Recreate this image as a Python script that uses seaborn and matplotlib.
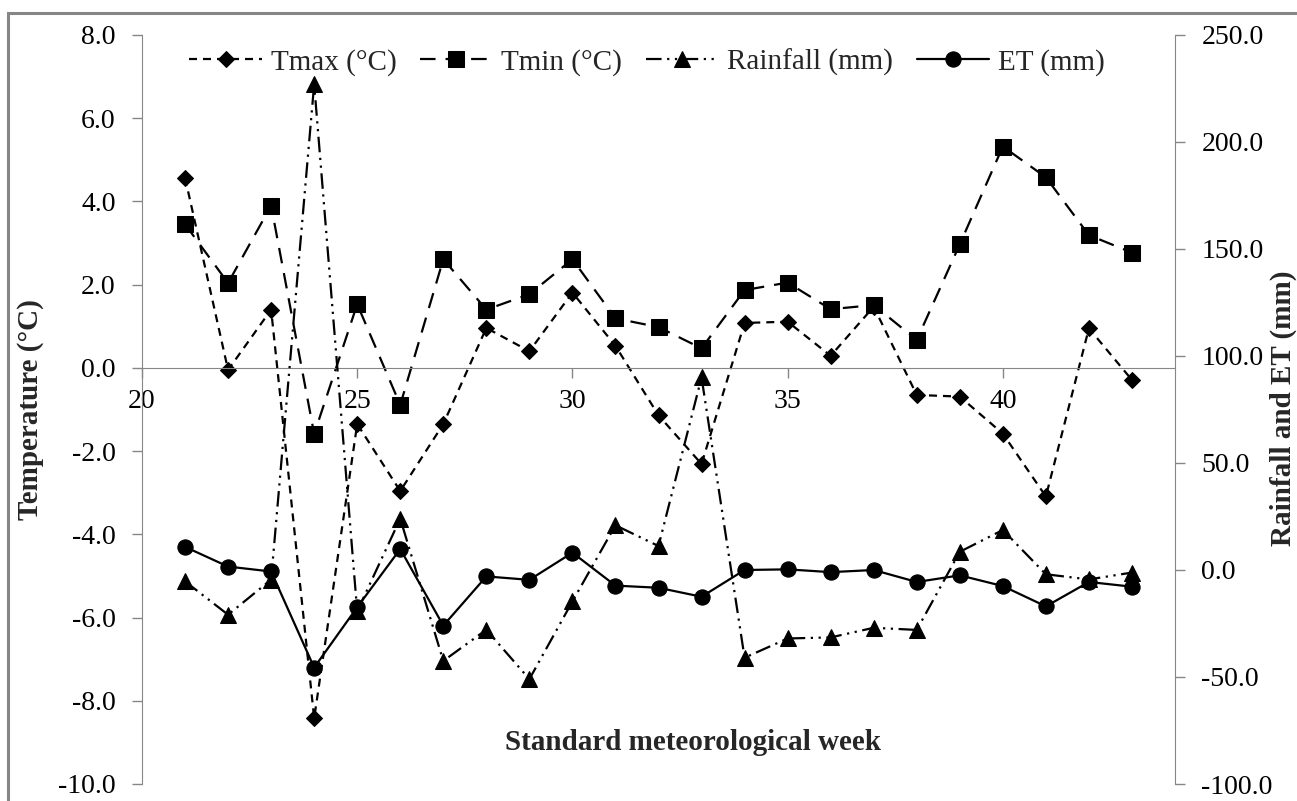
import numpy as np
import pandas as pd
import matplotlib
matplotlib.use('Agg')
import matplotlib.pyplot as plt
import seaborn as sns
from matplotlib.patches import Rectangle
from matplotlib.ticker import FormatStrFormatter

sns.set_style('ticks')
plt.rcParams['font.family'] = ['Liberation Serif', 'DejaVu Serif']
plt.rcParams['axes.unicode_minus'] = False

# data
weeks = [21, 22, 23, 24, 25, 26, 27, 28, 29, 30, 31, 32,
         33, 34, 35, 36, 37, 38, 39, 40, 41, 42, 43]
tmax = [4.57, -0.05, 1.40, -8.42, -1.35, -2.96, -1.35, 0.96, 0.40, 1.81, 0.53, -1.14,
        -2.31, 1.08, 1.11, 0.29, 1.47, -0.65, -0.69, -1.58, -3.09, 0.95, -0.29]
tmin = [3.45, 2.04, 3.90, -1.59, 1.53, -0.89, 2.61, 1.40, 1.77, 2.61, 1.19, 0.98,
        0.47, 1.87, 2.05, 1.41, 1.51, 0.67, 2.97, 5.32, 4.58, 3.19, 2.77]
rainfall = [-5.3, -20.9, -4.5, 227.0, -19.3, 24.0, -42.5, -27.9, -51.0, -14.7, 20.9, 11.2,
            90.0, -41.0, -32.0, -31.5, -27.0, -28.0, 8.5, 18.7, -2.0, -4.4, -1.2]
et = [10.8, 1.6, -0.7, -45.6, -17.4, 9.8, -26.0, -3.0, -4.6, 8.1, -7.3, -8.3,
      -12.5, 0.0, 0.3, -1.0, 0.0, -5.6, -2.5, -7.5, -17.0, -5.6, -7.8]

labels = ['Tmax (°C)', 'Tmin (°C)', 'Rainfall (mm)', 'ET (mm)']

df = pd.DataFrame({'week': weeks, 'Tmax': tmax, 'Tmin': tmin,
                   'Rainfall': rainfall, 'ET': et})

W, H = 1297, 801
fig = plt.figure(figsize=(W / 100, H / 100), dpi=100)
ax = fig.add_axes([142 / W, 1 - 784 / H, (1175 - 142) / W, (784 - 35) / H])
ax2 = ax.twinx()

grey = '#868686'
lw = 1.6

def draw(axis, col, mk, ms, dashes):
    sns.lineplot(data=df, x='week', y=col, ax=axis, color='black', marker=mk,
                 markersize=ms, markeredgecolor='black', markerfacecolor='black',
                 linewidth=lw, estimator=None, legend=False)
    ln = axis.lines[-1]
    if dashes is not None:
        ln.set_dashes(dashes)
    return ln

l1 = draw(ax, 'Tmax', 'D', 8.6, (3.6, 2.7))
l2 = draw(ax, 'Tmin', 's', 11, (7, 4.5))
l3 = draw(ax2, 'Rainfall', '^', 12, (7, 2.5, 1, 2.5, 1, 2.5))
l4 = draw(ax2, 'ET', 'o', 11, None)

ax.set_xlim(20, 44)
ax.set_ylim(-10, 8)
ax2.set_ylim(-100, 250)
ax.set_xticks([20, 25, 30, 35, 40])
ax.set_yticks(np.arange(-10, 8.1, 2))
ax2.set_yticks(np.arange(-100, 250.1, 50))
ax.yaxis.set_major_formatter(FormatStrFormatter('%.1f'))
ax2.yaxis.set_major_formatter(FormatStrFormatter('%.1f'))
ax.set_xlabel('')
ax.set_ylabel('')
ax2.set_ylabel('')

for s in ['top', 'right']:
    ax.spines[s].set_visible(False)
ax.spines['left'].set_color(grey)
ax.spines['bottom'].set_color(grey)
ax.spines['bottom'].set_position(('data', 0))
for s in ['top', 'left', 'bottom']:
    ax2.spines[s].set_visible(False)
ax2.spines['right'].set_color(grey)

ax.tick_params(axis='y', direction='out', length=7, width=1, color=grey,
               labelsize=20, pad=12, labelcolor='black')
ax.tick_params(axis='x', direction='out', length=7, width=1, color=grey,
               labelsize=20, pad=8, labelcolor='black')
ax2.tick_params(axis='y', direction='out', length=7, width=1, color=grey,
                labelsize=20, pad=12, labelcolor='black', left=False, right=True)

fig.text(693 / W, 1 - 743 / H, 'Standard meteorological week', ha='center',
         va='center', fontsize=21, fontweight='bold')
fig.text(31 / W, 1 - 410 / H, 'Temperature (°C)', ha='center', va='center',
         rotation=90, fontsize=21, fontweight='bold')
fig.text(1283 / W, 1 - 408 / H, 'Rainfall and ET (mm)', ha='center', va='center',
         rotation=90, fontsize=21, fontweight='bold')

ax2.legend([l1, l2, l3, l4], labels, loc='center',
           bbox_to_anchor=(647 / W, 1 - 62 / H), bbox_transform=fig.transFigure,
           ncol=4, frameon=False, fontsize=21, handlelength=2.5,
           handletextpad=0.3, columnspacing=0.8, borderpad=0)

# chart-area frame
fig.patches.append(Rectangle((8 / W, -0.2), 1.2, 1.2 - 13 / H, transform=fig.transFigure,
                             fill=False, edgecolor=grey, linewidth=2.2))

fig.savefig('out.png', dpi=100)
